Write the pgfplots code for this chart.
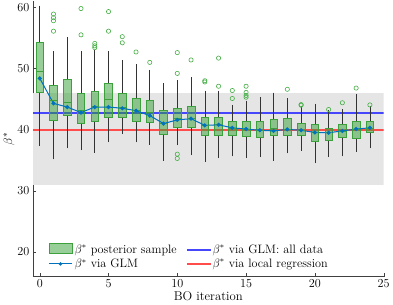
\documentclass[border=0pt]{standalone}
\usepackage{pgfplots}
\usepackage{pgfplotstable}
\pgfplotsset{compat=1.18}
\definecolor{boxedge}{RGB}{60,160,60}
\definecolor{boxfill}{RGB}{50,160,50}
\definecolor{outl}{RGB}{70,175,70}
\definecolor{glm}{rgb}{0,0.447,0.741}
\definecolor{cAll}{RGB}{70,70,250}
\definecolor{cLoc}{rgb}{1,0.3,0.3}
\pgfplotsset{bx/.style={forget plot, draw=boxedge, line width=0.6pt, fill=boxfill, fill opacity=0.5}}
\pgfplotstableread{
x lw lq med uq uw glm
0 37.6 46.1 49.5 54.3 60.0 48.4
1 35.4 41.5 44.8 47.2 52.6 44.3
2 37.2 42.3 44.5 48.3 54.8 43.7
3 36.9 41.1 43.2 45.9 52.6 42.8
4 36.5 41.4 43.8 46.2 52.8 43.7
5 38.2 42.1 44.9 47.5 52.6 43.7
6 39.6 42.1 43.6 45.9 51.1 43.5
7 38.2 41.3 43.2 45.2 50.4 43.1
8 37.8 41.2 42.8 44.8 49.5 42.3
9 35.2 39.3 41.0 43.1 47.3 41.0
10 37.7 40.4 41.8 43.5 47.8 41.6
11 36.1 40.4 41.9 43.8 48.3 41.8
12 35.0 39.1 40.7 42.1 46.1 40.7
13 35.6 39.0 40.8 42.1 46.1 40.8
14 35.9 39.0 40.3 41.4 43.8 40.3
15 35.6 38.9 40.1 41.4 44.5 40.1
16 35.8 38.7 39.9 41.4 45.1 39.9
17 35.2 39.0 40.3 41.7 45.8 39.8
18 36.4 39.0 40.1 41.8 44.9 40.05
19 36.8 39.1 39.9 41.0 43.6 39.9
20 34.8 38.1 39.5 40.8 44.0 39.55
21 35.8 38.3 39.5 40.3 42.9 39.5
22 35.9 38.7 39.8 40.9 43.1 39.8
23 36.7 38.6 40.1 41.4 45.5 40.1
24 37.2 39.5 40.3 41.3 43.6 40.3
}\bdata
\pgfplotstableread{
x y
1 58.9
1 58.3
1 57.8
1 56.1
3 59.8
3 55.5
4 54.1
4 53.7
4 53.4
5 59.3
5 56.1
6 55.2
6 54.2
7 52.7
8 51.0
10 52.6
10 49.2
10 36.0
10 35.3
11 51.4
12 48.0
12 47.8
13 51.7
13 47.1
14 46.4
14 45.1
15 47.1
15 46.1
15 45.6
15 45.3
18 46.6
19 44.1
19 44.0
21 43.3
22 44.4
23 46.8
24 44.05
}\odata
\begin{document}
\begin{tikzpicture}
\begin{axis}[
  scale only axis, width=344bp, height=270bp,
  xmin=-0.5, xmax=25, ymin=16, ymax=61,
  axis x line*=bottom, axis y line*=left,
  axis line style={black!75, line width=0.5pt},
  tick align=inside, major tick length=3.5bp,
  tick style={black!75},
  xtick={0,5,...,25}, ytick={20,30,...,60},
  tick label style={font=\fontsize{12}{14}\selectfont},
  label style={font=\fontsize{12.5}{14}\selectfont},
  xlabel={BO iteration}, ylabel={$\beta^*$},
  xlabel style={yshift=3bp}, ylabel style={yshift=-4bp},
  legend columns=2,
  legend style={draw=none, fill=none, at={(0.035,0.012)}, anchor=south west,
    font=\fontsize{12}{14}\selectfont, /tikz/every even column/.append style={column sep=8bp}},
  legend cell align=left,
]
\addlegendimage{legend image code/.code={\draw[draw=boxedge, line width=0.6pt, fill=boxfill, fill opacity=0.5] (0cm,-0.13cm) rectangle (0.8cm,0.22cm);}}
\addlegendentry{$\beta^*$ posterior sample}
\addlegendimage{legend image code/.code={\fill[cAll] (0cm,-0.6pt) rectangle (0.8cm,0.6pt);}}
\addlegendentry{$\beta^*$ via GLM: all data}
\addlegendimage{legend image code/.code={\draw[glm, line width=1pt] (0cm,0cm) -- (0.8cm,0cm); \fill[glm] (0.4cm,0cm) circle (1.5pt);}}
\addlegendentry{$\beta^*$ via GLM}
\addlegendimage{legend image code/.code={\fill[cLoc] (0cm,-0.6pt) rectangle (0.8cm,0.6pt);}}
\addlegendentry{$\beta^*$ via local regression}

\addplot[forget plot, fill=black!10, draw=none] coordinates {(-0.5,31) (25,31) (25,46) (-0.5,46)};
\addplot[forget plot, fill=cAll, draw=none] coordinates {(-0.5,42.58) (25,42.58) (25,42.82) (-0.5,42.82)};
\addplot[forget plot, fill=cLoc, draw=none] coordinates {(-0.5,39.86) (25,39.86) (25,40.14) (-0.5,40.14)};

% whiskers
\addplot[forget plot, draw=none, mark=none,
  error bars/.cd, y dir=plus, y explicit,
  error bar style={draw=black!80, line width=0.6pt},
  error mark options={draw=black!80, mark size=1.6bp, line width=0.6pt}]
  table[x=x, y=uq, y error expr=\thisrow{uw}-\thisrow{uq}] {\bdata};
\addplot[forget plot, draw=none, mark=none,
  error bars/.cd, y dir=minus, y explicit,
  error bar style={draw=black!80, line width=0.6pt},
  error mark options={draw=black!80, mark size=1.6bp, line width=0.6pt}]
  table[x=x, y=lq, y error expr=\thisrow{lq}-\thisrow{lw}] {\bdata};

% boxes
\addplot[bx] coordinates {(-0.275,46.1) (0.275,46.1) (0.275,54.3) (-0.275,54.3)} -- cycle;
\addplot[bx] coordinates {(0.725,41.5) (1.275,41.5) (1.275,47.2) (0.725,47.2)} -- cycle;
\addplot[bx] coordinates {(1.725,42.3) (2.275,42.3) (2.275,48.3) (1.725,48.3)} -- cycle;
\addplot[bx] coordinates {(2.725,41.1) (3.275,41.1) (3.275,45.9) (2.725,45.9)} -- cycle;
\addplot[bx] coordinates {(3.725,41.4) (4.275,41.4) (4.275,46.2) (3.725,46.2)} -- cycle;
\addplot[bx] coordinates {(4.725,42.1) (5.275,42.1) (5.275,47.5) (4.725,47.5)} -- cycle;
\addplot[bx] coordinates {(5.725,42.1) (6.275,42.1) (6.275,45.9) (5.725,45.9)} -- cycle;
\addplot[bx] coordinates {(6.725,41.3) (7.275,41.3) (7.275,45.2) (6.725,45.2)} -- cycle;
\addplot[bx] coordinates {(7.725,41.2) (8.275,41.2) (8.275,44.8) (7.725,44.8)} -- cycle;
\addplot[bx] coordinates {(8.725,39.3) (9.275,39.3) (9.275,43.1) (8.725,43.1)} -- cycle;
\addplot[bx] coordinates {(9.725,40.4) (10.275,40.4) (10.275,43.5) (9.725,43.5)} -- cycle;
\addplot[bx] coordinates {(10.725,40.4) (11.275,40.4) (11.275,43.8) (10.725,43.8)} -- cycle;
\addplot[bx] coordinates {(11.725,39.1) (12.275,39.1) (12.275,42.1) (11.725,42.1)} -- cycle;
\addplot[bx] coordinates {(12.725,39.0) (13.275,39.0) (13.275,42.1) (12.725,42.1)} -- cycle;
\addplot[bx] coordinates {(13.725,39.0) (14.275,39.0) (14.275,41.4) (13.725,41.4)} -- cycle;
\addplot[bx] coordinates {(14.725,38.9) (15.275,38.9) (15.275,41.4) (14.725,41.4)} -- cycle;
\addplot[bx] coordinates {(15.725,38.7) (16.275,38.7) (16.275,41.4) (15.725,41.4)} -- cycle;
\addplot[bx] coordinates {(16.725,39.0) (17.275,39.0) (17.275,41.7) (16.725,41.7)} -- cycle;
\addplot[bx] coordinates {(17.725,39.0) (18.275,39.0) (18.275,41.8) (17.725,41.8)} -- cycle;
\addplot[bx] coordinates {(18.725,39.1) (19.275,39.1) (19.275,41.0) (18.725,41.0)} -- cycle;
\addplot[bx] coordinates {(19.725,38.1) (20.275,38.1) (20.275,40.8) (19.725,40.8)} -- cycle;
\addplot[bx] coordinates {(20.725,38.3) (21.275,38.3) (21.275,40.3) (20.725,40.3)} -- cycle;
\addplot[bx] coordinates {(21.725,38.7) (22.275,38.7) (22.275,40.9) (21.725,40.9)} -- cycle;
\addplot[bx] coordinates {(22.725,38.6) (23.275,38.6) (23.275,41.4) (22.725,41.4)} -- cycle;
\addplot[bx] coordinates {(23.725,39.5) (24.275,39.5) (24.275,41.3) (23.725,41.3)} -- cycle;

% medians
\addplot[forget plot, only marks, mark=-, mark size=3.7bp, mark options={draw=boxedge, line width=0.6pt}] table[x=x, y=med] {\bdata};
% outliers
\addplot[forget plot, only marks, mark=o, mark size=2.1pt, mark options={draw=outl, line width=0.6pt}] table[x=x, y=y] {\odata};
% GLM
\addplot[forget plot, glm, line width=1pt, mark=*, mark size=1.5pt] table[x=x, y=glm] {\bdata};
\end{axis}
\end{tikzpicture}
\end{document}
